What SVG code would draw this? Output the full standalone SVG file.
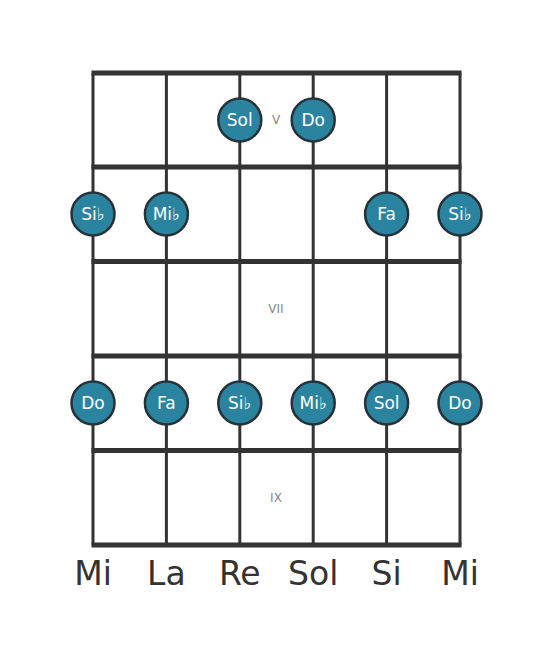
<svg xmlns="http://www.w3.org/2000/svg" width="553" height="656" viewBox="0 0 553 656">
<style>
.fret{stroke:#333;stroke-width:5;stroke-linecap:butt}
.str{stroke:#333;stroke-width:3}
.dot circle{fill:#2a84a0;stroke:#263238;stroke-width:2.5}
.dot text{fill:#fff;font-family:"DejaVu Sans",sans-serif;font-size:17px;text-anchor:middle;dominant-baseline:central}
.fn{fill:#888;font-family:"DejaVu Sans",sans-serif;font-size:12px;text-anchor:middle;dominant-baseline:central}
.sn{fill:#333;font-family:"DejaVu Sans",sans-serif;font-size:33px;text-anchor:middle}
</style>
<rect width="553" height="656" fill="#fff"/>
<g id="connectors">
<line class="str" x1="93" y1="73" x2="93" y2="545"/>
<line class="str" x1="166.4" y1="73" x2="166.4" y2="545"/>
<line class="str" x1="239.8" y1="73" x2="239.8" y2="545"/>
<line class="str" x1="313.2" y1="73" x2="313.2" y2="545"/>
<line class="str" x1="386.6" y1="73" x2="386.6" y2="545"/>
<line class="str" x1="460" y1="73" x2="460" y2="545"/>
<line class="fret" x1="91.5" y1="73" x2="461.5" y2="73"/>
<line class="fret" x1="91.5" y1="167" x2="461.5" y2="167"/>
<line class="fret" x1="91.5" y1="261.5" x2="461.5" y2="261.5"/>
<line class="fret" x1="91.5" y1="356" x2="461.5" y2="356"/>
<line class="fret" x1="91.5" y1="450.5" x2="461.5" y2="450.5"/>
<line class="fret" x1="91.5" y1="545" x2="461.5" y2="545"/>
</g>
<g id="fret-labels">
<text class="fn" x="276" y="120">V</text>
<text class="fn" x="276" y="309">VII</text>
<text class="fn" x="276" y="498">IX</text>
</g>
<g id="n-sol-5" class="dot"><circle cx="239.8" cy="120" r="21.5"/><text x="239.8" y="120">Sol</text></g>
<g id="n-do-5" class="dot"><circle cx="313.2" cy="120" r="21.5"/><text x="313.2" y="120">Do</text></g>
<g id="n-sib-6a" class="dot"><circle cx="93" cy="214" r="21.5"/><text x="93" y="214">Si♭</text></g>
<g id="n-mib-6" class="dot"><circle cx="166.4" cy="214" r="21.5"/><text x="166.4" y="214">Mi♭</text></g>
<g id="n-fa-6" class="dot"><circle cx="386.6" cy="214" r="21.5"/><text x="386.6" y="214">Fa</text></g>
<g id="n-sib-6b" class="dot"><circle cx="460" cy="214" r="21.5"/><text x="460" y="214">Si♭</text></g>
<g id="n-do-8a" class="dot"><circle cx="93" cy="403" r="21.5"/><text x="93" y="403">Do</text></g>
<g id="n-fa-8" class="dot"><circle cx="166.4" cy="403" r="21.5"/><text x="166.4" y="403">Fa</text></g>
<g id="n-sib-8" class="dot"><circle cx="239.8" cy="403" r="21.5"/><text x="239.8" y="403">Si♭</text></g>
<g id="n-mib-8" class="dot"><circle cx="313.2" cy="403" r="21.5"/><text x="313.2" y="403">Mi♭</text></g>
<g id="n-sol-8" class="dot"><circle cx="386.6" cy="403" r="21.5"/><text x="386.6" y="403">Sol</text></g>
<g id="n-do-8b" class="dot"><circle cx="460" cy="403" r="21.5"/><text x="460" y="403">Do</text></g>
<g id="string-names">
<text class="sn" x="93" y="585">Mi</text>
<text class="sn" x="166.4" y="585">La</text>
<text class="sn" x="239.8" y="585">Re</text>
<text class="sn" x="313.2" y="585">Sol</text>
<text class="sn" x="386.6" y="585">Si</text>
<text class="sn" x="460" y="585">Mi</text>
</g>
</svg>
